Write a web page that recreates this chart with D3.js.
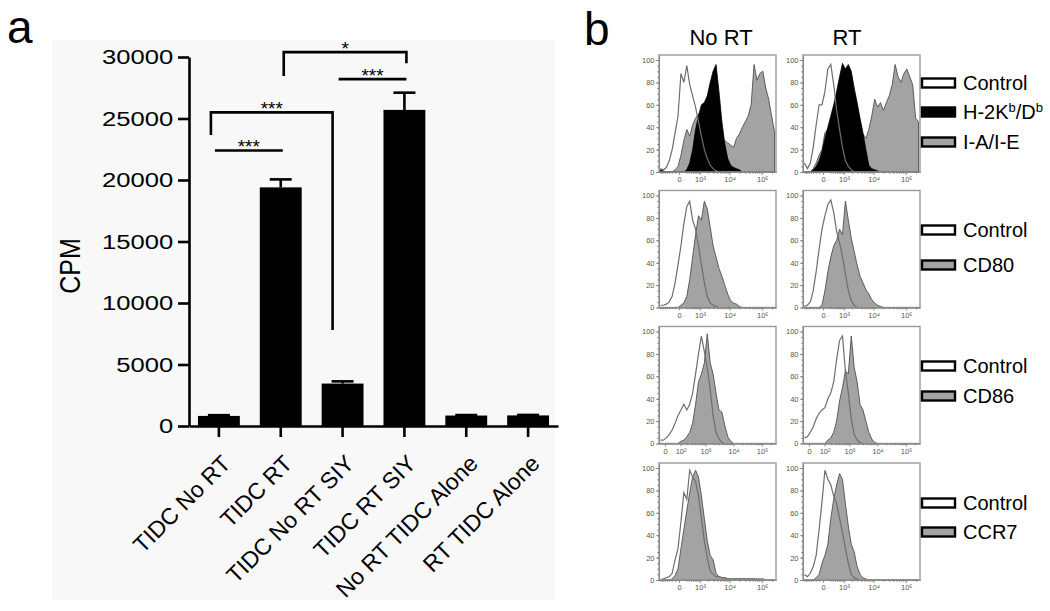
<!DOCTYPE html>
<html><head><meta charset="utf-8">
<script src="https://cdn.jsdelivr.net/npm/d3@7"></script>
<style>body{margin:0;background:#fff}</style>
</head><body>
<svg id="c" width="1050" height="611"></svg>
<script>
// ---------------- DATA : panel a ----------------
const categories = ["TIDC No RT","TIDC RT","TIDC No RT SIY","TIDC RT SIY","No RT TIDC Alone","RT TIDC Alone"];
const cpmMean = [820, 19400, 3450, 25700, 850, 860];
const cpmSem  = [60, 650, 180, 1400, 40, 40];
const yTicksA = [0, 5000, 10000, 15000, 20000, 25000, 30000];
const comparisons = [
  {from:"TIDC No RT",     to:"TIDC RT",        level:22400, legFrom:null,  legTo:null,  label:"***"},
  {from:"TIDC No RT",     to:"TIDC No RT SIY", level:25500, legFrom:23650, legTo:7800,  label:"***"},
  {from:"TIDC No RT SIY", to:"TIDC RT SIY",    level:28200, legFrom:null,  legTo:null,  label:"***"},
  {from:"TIDC RT",        to:"TIDC RT SIY",    level:30400, legFrom:28450, legTo:29500, label:"*"}
];

// ---------------- DATA : panel b (histograms, % of max, 40 display bins) ----------------
const columnTitles = ["No RT", "RT"];
const yTicksB = [0, 20, 40, 60, 80, 100];
const xTickValuesStd = [0, 1e3, 1e4, 1e5];
const xTickLabelsStd = ["0", "10³", "10⁴", "10⁵"];
const xTickValuesCD86 = [0, 1e2, 1e3, 1e4, 1e5];
const xTickLabelsCD86 = ["0", "10²", "10³", "10⁴", "10⁵"];

const mhcNoRT_ctrl = [3,2,4,10,20,35,50,88,80,95,78,68,58,45,32,20,12,6,3,1,0,0,0,0,0,0,0,0,0,0,0,0,0,0,0,0,0,0,0,0];
const mhcNoRT_H2   = [2,1,0,0,0,0,0,0,0,2,8,20,38,50,60,62,68,80,90,96,72,45,25,12,6,4,3,2,0,0,0,0,0,0,0,0,0,0,0,0];
const mhcNoRT_IAIE = [0,0,0,0,0,2,5,15,28,38,32,42,48,52,50,45,42,38,35,30,30,30,28,26,24,22,30,34,40,45,50,60,96,82,88,90,75,65,50,36];
const mhcRT_ctrl   = [8,3,8,22,42,60,60,72,92,96,78,55,38,22,10,5,2,0,0,0,0,0,0,0,0,0,0,0,0,0,0,0,0,0,0,0,0,0,0,0];
const mhcRT_H2     = [0,0,0,2,5,10,18,30,40,50,60,72,85,97,92,96,90,75,62,48,35,20,6,3,2,1,0,0,0,0,0,0,0,0,0,0,0,0,0,0];
const mhcRT_IAIE   = [0,0,0,3,8,15,20,35,38,36,46,58,55,50,50,48,45,42,40,38,34,30,38,50,65,58,62,55,62,68,78,96,85,80,88,92,85,78,48,45];

const cd80NoRT_ctrl = [2,2,3,5,10,22,38,55,75,90,95,78,70,55,38,22,10,4,2,1,0,0,0,0,0,0,0,0,0,0,0,0,0,0,0,0,0,0,0,0];
const cd80NoRT_stain= [0,0,0,0,0,0,0,2,4,10,25,45,65,82,78,95,88,72,55,45,35,28,20,12,6,4,3,1,0,0,0,0,0,0,0,0,0,0,0,0];
const cd80RT_ctrl   = [1,2,5,15,32,52,70,82,92,96,85,68,58,45,30,15,6,2,0,0,0,0,0,0,0,0,0,0,0,0,0,0,0,0,0,0,0,0,0,0];
const cd80RT_stain  = [0,0,0,0,0,0,2,15,32,45,55,60,70,65,95,78,62,50,38,28,22,16,12,7,4,2,1,0,0,0,0,0,0,0,0,0,0,0,0,0];

const cd86NoRT_ctrl = [3,3,5,8,12,18,25,30,35,30,35,45,62,80,96,82,68,48,25,10,4,1,0,0,0,0,0,0,0,0,0,0,0,0,0,0,0,0,0,0];
const cd86NoRT_stain= [0,0,0,0,0,0,0,2,3,6,10,18,35,55,62,72,98,72,62,45,30,28,16,6,2,0,0,0,0,0,0,0,0,0,0,0,0,0,0,0];
const cd86RT_ctrl   = [5,6,10,15,22,27,30,32,40,45,55,75,92,96,65,45,22,8,3,1,0,0,0,0,0,0,0,0,0,0,0,0,0,0,0,0,0,0,0,0];
const cd86RT_stain  = [0,0,0,0,0,0,0,0,3,5,10,20,38,50,65,62,96,68,55,35,30,20,10,4,1,0,0,0,0,0,0,0,0,0,0,0,0,0,0,0];

const ccr7NoRT_ctrl = [0,1,2,3,6,18,28,52,78,72,98,92,88,75,55,35,20,8,5,3,3,2,2,1,1,1,1,1,1,1,1,1,1,1,1,1,0,0,0,0];
const ccr7NoRT_stain= [0,0,0,0,1,4,10,28,45,62,78,92,98,92,75,55,35,22,18,6,3,2,2,1,1,1,1,1,1,1,1,1,1,0,0,0,0,0,0,0];
const ccr7RT_ctrl   = [5,3,6,12,22,45,70,98,90,85,75,68,55,42,28,15,5,2,1,0,0,0,0,0,0,0,0,0,0,0,0,0,0,0,0,0,0,0,0,0];
const ccr7RT_stain  = [0,0,0,0,2,5,15,22,32,55,72,85,95,90,68,48,32,25,12,5,2,1,0,0,0,0,0,0,0,0,0,0,0,0,0,0,0,0,0,0];

const legendRows = [
  [{label:"Control", kind:"ctrl"}, {label:"H-2K|b|/D|b", kind:"black"}, {label:"I-A/I-E", kind:"gray"}],
  [{label:"Control", kind:"ctrl"}, {label:"CD80", kind:"gray"}],
  [{label:"Control", kind:"ctrl"}, {label:"CD86", kind:"gray"}],
  [{label:"Control", kind:"ctrl"}, {label:"CCR7", kind:"gray"}]
];

// ---------------- DRAWING ----------------
const FONT = "'Liberation Sans', Arial, Helvetica, sans-serif";
const svg = d3.select("#c").attr("font-family", FONT);

// ===== panel a =====
svg.append("rect").attr("x", 52).attr("y", 40).attr("width", 503).attr("height", 560).attr("fill", "#f8f8f8");
svg.append("text").attr("x", 7).attr("y", 43).attr("font-size", 46).text("a");

const x = d3.scaleBand().domain(categories).range([189, 558]).paddingInner(0.323).paddingOuter(0.145);
const y = d3.scaleLinear().domain([0, 30000]).range([426, 57]);
const cx = d => x(d) + x.bandwidth() / 2;

const gBars = svg.append("g");
gBars.selectAll("rect").data(categories).join("rect")
  .attr("x", d => x(d)).attr("width", x.bandwidth())
  .attr("y", (d, i) => y(cpmMean[i])).attr("height", (d, i) => y(0) - y(cpmMean[i]))
  .attr("fill", "#000");
const gErr = svg.append("g").attr("stroke", "#000").attr("stroke-width", 2.6);
categories.forEach((c, i) => {
  gErr.append("line").attr("x1", cx(c)).attr("x2", cx(c)).attr("y1", y(cpmMean[i])).attr("y2", y(cpmMean[i] + cpmSem[i]));
  gErr.append("line").attr("x1", cx(c) - 11).attr("x2", cx(c) + 11).attr("y1", y(cpmMean[i] + cpmSem[i])).attr("y2", y(cpmMean[i] + cpmSem[i]));
});

const gy = svg.append("g").attr("transform", "translate(189,0)")
  .call(d3.axisLeft(y).tickValues(yTicksA).tickFormat(d3.format("d")).tickSize(11).tickPadding(2).tickSizeOuter(0));
gy.select(".domain").attr("stroke-width", 2.6);
gy.selectAll(".tick line").attr("stroke-width", 2.6);
gy.selectAll(".tick text").attr("font-size", 21).attr("font-family", FONT).attr("fill", "#000").attr("transform", "scale(1.22,1)");

const gx = svg.append("g").attr("transform", "translate(0,426)")
  .call(d3.axisBottom(x).tickSize(11).tickSizeOuter(0).tickFormat(""));
gx.select(".domain").attr("stroke-width", 2.6);
gx.selectAll(".tick line").attr("stroke-width", 2.6);

svg.append("g").selectAll("text").data(categories).join("text")
  .attr("transform", d => `translate(${cx(d) + 13},465) rotate(-45)`)
  .attr("text-anchor", "end").attr("font-size", 23).text(d => d);

svg.append("text").attr("transform", "translate(80,266) scale(1.2,1) rotate(-90)")
  .attr("text-anchor", "middle").attr("font-size", 25).text("CPM");

// significance brackets
const bracketNudge = [[-4, 2], [-8, -10], [-4, 2], [3, 2]];
const gSig = svg.append("g");
comparisons.forEach((c, i) => {
  const x1 = cx(c.from) + bracketNudge[i][0], x2 = cx(c.to) + bracketNudge[i][1];
  const yl = y(c.level);
  let p = "";
  p += c.legFrom !== null ? `M${x1},${y(c.legFrom)}L${x1},${yl}` : `M${x1},${yl}`;
  p += `L${x2},${yl}`;
  if (c.legTo !== null) p += `L${x2},${y(c.legTo)}`;
  gSig.append("path").attr("d", p).attr("fill", "none").attr("stroke", "#000").attr("stroke-width", 2.6);
  gSig.append("text").attr("x", (x1 + x2) / 2).attr("y", yl + 3).attr("text-anchor", "middle")
    .attr("font-size", 19).text(c.label);
});

// ===== panel b =====
svg.append("text").attr("x", 584).attr("y", 45).attr("font-size", 46).text("b");
const colLeft = [659, 803];
const rowTop = [55, 190.5, 326.5, 463];
const BOX = 117;
const titleX = [721, 847];
columnTitles.forEach((t, i) => svg.append("text").attr("x", titleX[i]).attr("y", 45)
  .attr("text-anchor", "middle").attr("font-size", 22).text(t));

const panels = [
  {row:0, col:0, gray:mhcNoRT_IAIE, black:mhcNoRT_H2, ctrl:mhcNoRT_ctrl},
  {row:0, col:1, gray:mhcRT_IAIE,   black:mhcRT_H2,   ctrl:mhcRT_ctrl},
  {row:1, col:0, gray:cd80NoRT_stain, ctrl:cd80NoRT_ctrl},
  {row:1, col:1, gray:cd80RT_stain,   ctrl:cd80RT_ctrl},
  {row:2, col:0, gray:cd86NoRT_stain, ctrl:cd86NoRT_ctrl},
  {row:2, col:1, gray:cd86RT_stain,   ctrl:cd86RT_ctrl},
  {row:3, col:0, gray:ccr7NoRT_stain, ctrl:ccr7NoRT_ctrl},
  {row:3, col:1, gray:ccr7RT_stain,   ctrl:ccr7RT_ctrl}
];
const rowAxis = [
  {c:300, lo:-917, hi:262144, vals:xTickValuesStd, labels:xTickLabelsStd},
  {c:300, lo:-917, hi:262144, vals:xTickValuesStd, labels:xTickLabelsStd},
  {c:40,  lo:-25,  hi:308000, vals:xTickValuesCD86, labels:xTickLabelsCD86},
  {c:300, lo:-917, hi:262144, vals:xTickValuesStd, labels:xTickLabelsStd}
];
const minorX = [];
[1e2, 1e3, 1e4].forEach(d => { for (let k = 2; k <= 9; k++) minorX.push(k * d); });
minorX.push(2e5, -100, -200, -300, -400, -500, -600, -700, -800);

const GRAY = "#a3a3a3";
panels.forEach(p => {
  const left = colLeft[p.col], top = rowTop[p.row];
  const ax = rowAxis[p.row];
  const g = svg.append("g");
  const ys = d3.scaleLinear().domain([0, 104.5]).range([top + BOX, top]);
  const xb = d3.scaleLinear().domain([-0.5, 39.5]).range([left, left + BOX]);
  const xs = d3.scaleSymlog().constant(ax.c).domain([ax.lo, ax.hi]).range([left, left + BOX]);
  const area = d3.area().x((d, i) => xb(i)).y0(ys(0)).y1(d => ys(d));
  const line = d3.line().x((d, i) => xb(i)).y(d => ys(d));

  g.append("path").attr("d", area(p.gray)).attr("fill", GRAY).attr("stroke", "#505050").attr("stroke-width", 0.9);
  if (p.black) g.append("path").attr("d", area(p.black)).attr("fill", "#000").attr("stroke", "#000").attr("stroke-width", 0.8);
  g.append("path").attr("d", line(p.ctrl)).attr("fill", "none").attr("stroke", "#6e6e6e").attr("stroke-width", 1.2);

  g.append("rect").attr("x", left).attr("y", top).attr("width", BOX).attr("height", BOX)
    .attr("fill", "none").attr("stroke", "#999").attr("stroke-width", 1.4);

  const yA = g.append("g").attr("transform", `translate(${left},0)`)
    .call(d3.axisLeft(ys).tickValues(yTicksB).tickSize(3).tickPadding(1.5).tickSizeOuter(0));
  const yM = g.append("g").attr("transform", `translate(${left},0)`)
    .call(d3.axisLeft(ys).tickValues(d3.range(0, 101, 5)).tickSize(1.8).tickFormat("").tickSizeOuter(0));
  const xA = g.append("g").attr("transform", `translate(0,${top + BOX})`)
    .call(d3.axisBottom(xs).tickValues(ax.vals).tickFormat((d, i) => ax.labels[i]).tickSize(3).tickPadding(2).tickSizeOuter(0));
  const xM = g.append("g").attr("transform", `translate(0,${top + BOX})`)
    .call(d3.axisBottom(xs).tickValues(minorX.filter(v => v > ax.lo && v < ax.hi)).tickSize(1.8).tickFormat("").tickSizeOuter(0));
  [yA, yM, xA, xM].forEach(a => {
    a.select(".domain").attr("stroke", "#888").attr("stroke-width", 1);
    a.selectAll(".tick line").attr("stroke", "#777").attr("stroke-width", 0.8);
    a.selectAll(".tick text").attr("font-size", 7.5).attr("fill", "#555").attr("font-family", FONT);
  });
});

// legends
const legendY = [[83, 112, 142], [230, 265], [366, 396], [503, 532]];
const swatchFill = {ctrl:"#fff", black:"#000", gray:GRAY};
legendRows.forEach((items, r) => {
  items.forEach((it, j) => {
    const yy = legendY[r][j];
    svg.append("rect").attr("x", 922).attr("y", yy - 4.5).attr("width", 33).attr("height", 9)
      .attr("fill", swatchFill[it.kind]).attr("stroke", "#000").attr("stroke-width", 2.4);
    const t = svg.append("text").attr("x", 963).attr("y", yy + 7).attr("font-size", 20);
    const parts = it.label.split("|");
    parts.forEach((s, k) => {
      if (k % 2 === 1) t.append("tspan").attr("dy", -7).attr("font-size", 13).text(s);
      else t.append("tspan").attr("dy", k === 0 ? 0 : 7).text(s);
    });
  });
});
</script>
</body></html>
